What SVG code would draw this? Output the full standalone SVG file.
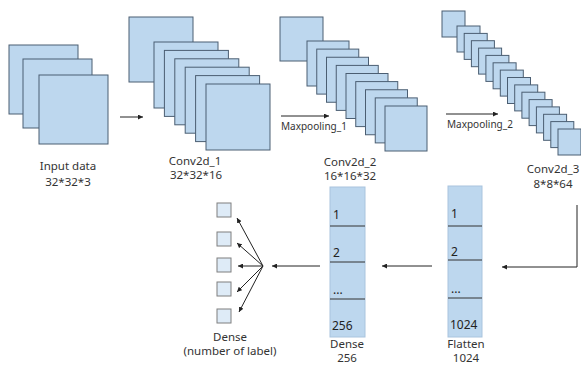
<svg xmlns="http://www.w3.org/2000/svg" width="581" height="365" viewBox="0 0 581 365">
  <style>
    .sq { fill: #bdd7ee; stroke: #4b5e72; stroke-width: 1; }
    .unit { fill: #deebf7; stroke: #7f7f7f; stroke-width: 1; }
    .col { fill: #bdd7ee; stroke: #a9c4de; stroke-width: 1; }
    .div { stroke: #333; stroke-width: 1; }
    .lbl { font-family: "Noto Sans", "Open Sans", sans-serif; font-size: 11.5px; fill: #333; text-anchor: middle; }
    .small { font-family: "Noto Sans", "Open Sans", sans-serif; font-size: 10px; fill: #333; }
    .cell { font-family: "Noto Sans", "Open Sans", sans-serif; font-size: 12px; fill: #222; }
    .link { stroke: #222; stroke-width: 1; fill: none; }
  </style>
  <defs>
    <marker id="head" markerUnits="userSpaceOnUse" markerWidth="6" markerHeight="5" refX="5" refY="2.5" orient="auto">
      <path d="M0,0 L5,2.5 L0,5 z" fill="#222"/>
    </marker>
  </defs>
  <rect width="581" height="365" fill="#fff"/>

  <!-- input image: 3 channels -->
  <g id="input">
    <rect class="sq" x="9" y="45" width="69" height="69"/>
    <rect class="sq" x="23" y="59" width="69" height="69"/>
    <rect class="sq" x="39" y="75" width="69" height="69"/>
    <text class="lbl" x="68" y="170">Input data</text>
    <text class="lbl" x="68" y="186">32*32*3</text>
  </g>

  <!-- first convolution: 16 feature maps -->
  <g id="conv1">
    <rect class="sq" x="129" y="17" width="64" height="65"/>
    <rect class="sq" x="154" y="42" width="64" height="66"/>
    <rect class="sq" x="164.4" y="50.4" width="64" height="66"/>
    <rect class="sq" x="174.8" y="58.8" width="64" height="66"/>
    <rect class="sq" x="185.2" y="67.2" width="64" height="66"/>
    <rect class="sq" x="195.6" y="75.6" width="64" height="66"/>
    <rect class="sq" x="206" y="84" width="64" height="66"/>
    <text class="lbl" x="195" y="165">Conv2d_1</text>
    <text class="lbl" x="196" y="179">32*32*16</text>
  </g>

  <!-- second convolution: 32 feature maps -->
  <g id="conv2">
    <rect class="sq" x="280" y="17" width="43" height="44"/>
    <rect class="sq" x="307" y="41" width="42" height="45"/>
    <rect class="sq" x="316.75" y="49.1" width="42" height="45"/>
    <rect class="sq" x="326.5" y="57.25" width="42" height="45"/>
    <rect class="sq" x="336.25" y="65.4" width="42" height="45"/>
    <rect class="sq" x="346" y="73.5" width="42" height="45"/>
    <rect class="sq" x="355.75" y="81.6" width="42" height="45"/>
    <rect class="sq" x="365.5" y="89.75" width="42" height="45"/>
    <rect class="sq" x="375.25" y="97.9" width="42" height="45"/>
    <rect class="sq" x="385" y="106" width="42" height="45"/>
    <text class="lbl" x="350" y="166">Conv2d_2</text>
    <text class="lbl" x="350" y="180">16*16*32</text>
  </g>

  <!-- third convolution: 64 feature maps -->
  <g id="conv3">
    <rect class="sq" x="442" y="11" width="23" height="26"/>
    <rect class="sq" x="457" y="26" width="23" height="26"/>
    <rect class="sq" x="464.2" y="33.4" width="23" height="26"/>
    <rect class="sq" x="471.4" y="40.7" width="23" height="26"/>
    <rect class="sq" x="478.6" y="48.1" width="23" height="26"/>
    <rect class="sq" x="485.9" y="55.4" width="23" height="26"/>
    <rect class="sq" x="493.1" y="62.8" width="23" height="26"/>
    <rect class="sq" x="500.3" y="70.1" width="23" height="26"/>
    <rect class="sq" x="507.5" y="77.5" width="23" height="26"/>
    <rect class="sq" x="514.7" y="84.9" width="23" height="26"/>
    <rect class="sq" x="521.9" y="92.2" width="23" height="26"/>
    <rect class="sq" x="529.1" y="99.6" width="23" height="26"/>
    <rect class="sq" x="536.4" y="106.9" width="23" height="26"/>
    <rect class="sq" x="543.6" y="114.3" width="23" height="26"/>
    <rect class="sq" x="550.8" y="121.6" width="23" height="26"/>
    <rect class="sq" x="558" y="129" width="23" height="26"/>
    <text class="lbl" x="553" y="173">Conv2d_3</text>
    <text class="lbl" x="553" y="188">8*8*64</text>
  </g>

  <!-- flatten vector -->
  <g id="flatten">
    <rect class="col" x="448" y="186" width="34" height="151"/>
    <line class="div" x1="448" y1="226" x2="482" y2="226"/>
    <line class="div" x1="448" y1="260" x2="482" y2="260"/>
    <line class="div" x1="448" y1="298" x2="482" y2="298"/>
    <text class="cell" x="451" y="218">1</text>
    <text class="cell" x="451" y="256">2</text>
    <text class="cell" x="451" y="293" font-size="9">...</text>
    <text class="cell" x="450" y="329">1024</text>
    <text class="lbl" x="466" y="348">Flatten</text>
    <text class="lbl" x="466" y="362" font-size="11">1024</text>
  </g>

  <!-- dense layer, 256 units -->
  <g id="dense256">
    <rect class="col" x="330" y="187" width="35" height="150"/>
    <line class="div" x1="330" y1="226" x2="365" y2="226"/>
    <line class="div" x1="330" y1="262" x2="365" y2="262"/>
    <line class="div" x1="330" y1="299" x2="365" y2="299"/>
    <text class="cell" x="333" y="219">1</text>
    <text class="cell" x="333" y="257">2</text>
    <text class="cell" x="333" y="294" font-size="9">...</text>
    <text class="cell" x="332" y="330">256</text>
    <text class="lbl" x="347" y="348">Dense</text>
    <text class="lbl" x="347" y="362" font-size="11">256</text>
  </g>

  <!-- output layer -->
  <g id="output">
    <rect class="unit" x="217" y="203" width="14" height="14"/>
    <rect class="unit" x="217" y="232" width="14" height="14"/>
    <rect class="unit" x="217" y="258" width="14" height="14"/>
    <rect class="unit" x="217" y="282" width="14" height="14"/>
    <rect class="unit" x="217" y="309" width="14" height="14"/>
    <text class="lbl" x="230" y="341">Dense</text>
    <text class="lbl" x="230" y="355">(number of label)</text>
  </g>

  <!-- connectors -->
  <g id="connectors">
    <line class="link" x1="120" y1="117" x2="143" y2="117" marker-end="url(#head)"/>
    <line class="link" x1="281" y1="116" x2="329" y2="116" marker-end="url(#head)"/>
    <text class="small" x="281" y="130">Maxpooling_1</text>
    <line class="link" x1="446" y1="114" x2="498" y2="114" marker-end="url(#head)"/>
    <text class="small" x="447" y="128">Maxpooling_2</text>
    <polyline class="link" points="577,205 577,267 502,267" marker-end="url(#head)"/>
    <line class="link" x1="432" y1="266" x2="382" y2="266" marker-end="url(#head)"/>
    <line class="link" x1="320" y1="266" x2="272" y2="266" marker-end="url(#head)"/>
    <line class="link" x1="263" y1="266" x2="237" y2="218" marker-end="url(#head)"/>
    <line class="link" x1="263" y1="266" x2="237" y2="243" marker-end="url(#head)"/>
    <line class="link" x1="263" y1="266" x2="238" y2="266" marker-end="url(#head)"/>
    <line class="link" x1="263" y1="266" x2="237" y2="292" marker-end="url(#head)"/>
    <line class="link" x1="263" y1="266" x2="239" y2="312" marker-end="url(#head)"/>
  </g>
</svg>
